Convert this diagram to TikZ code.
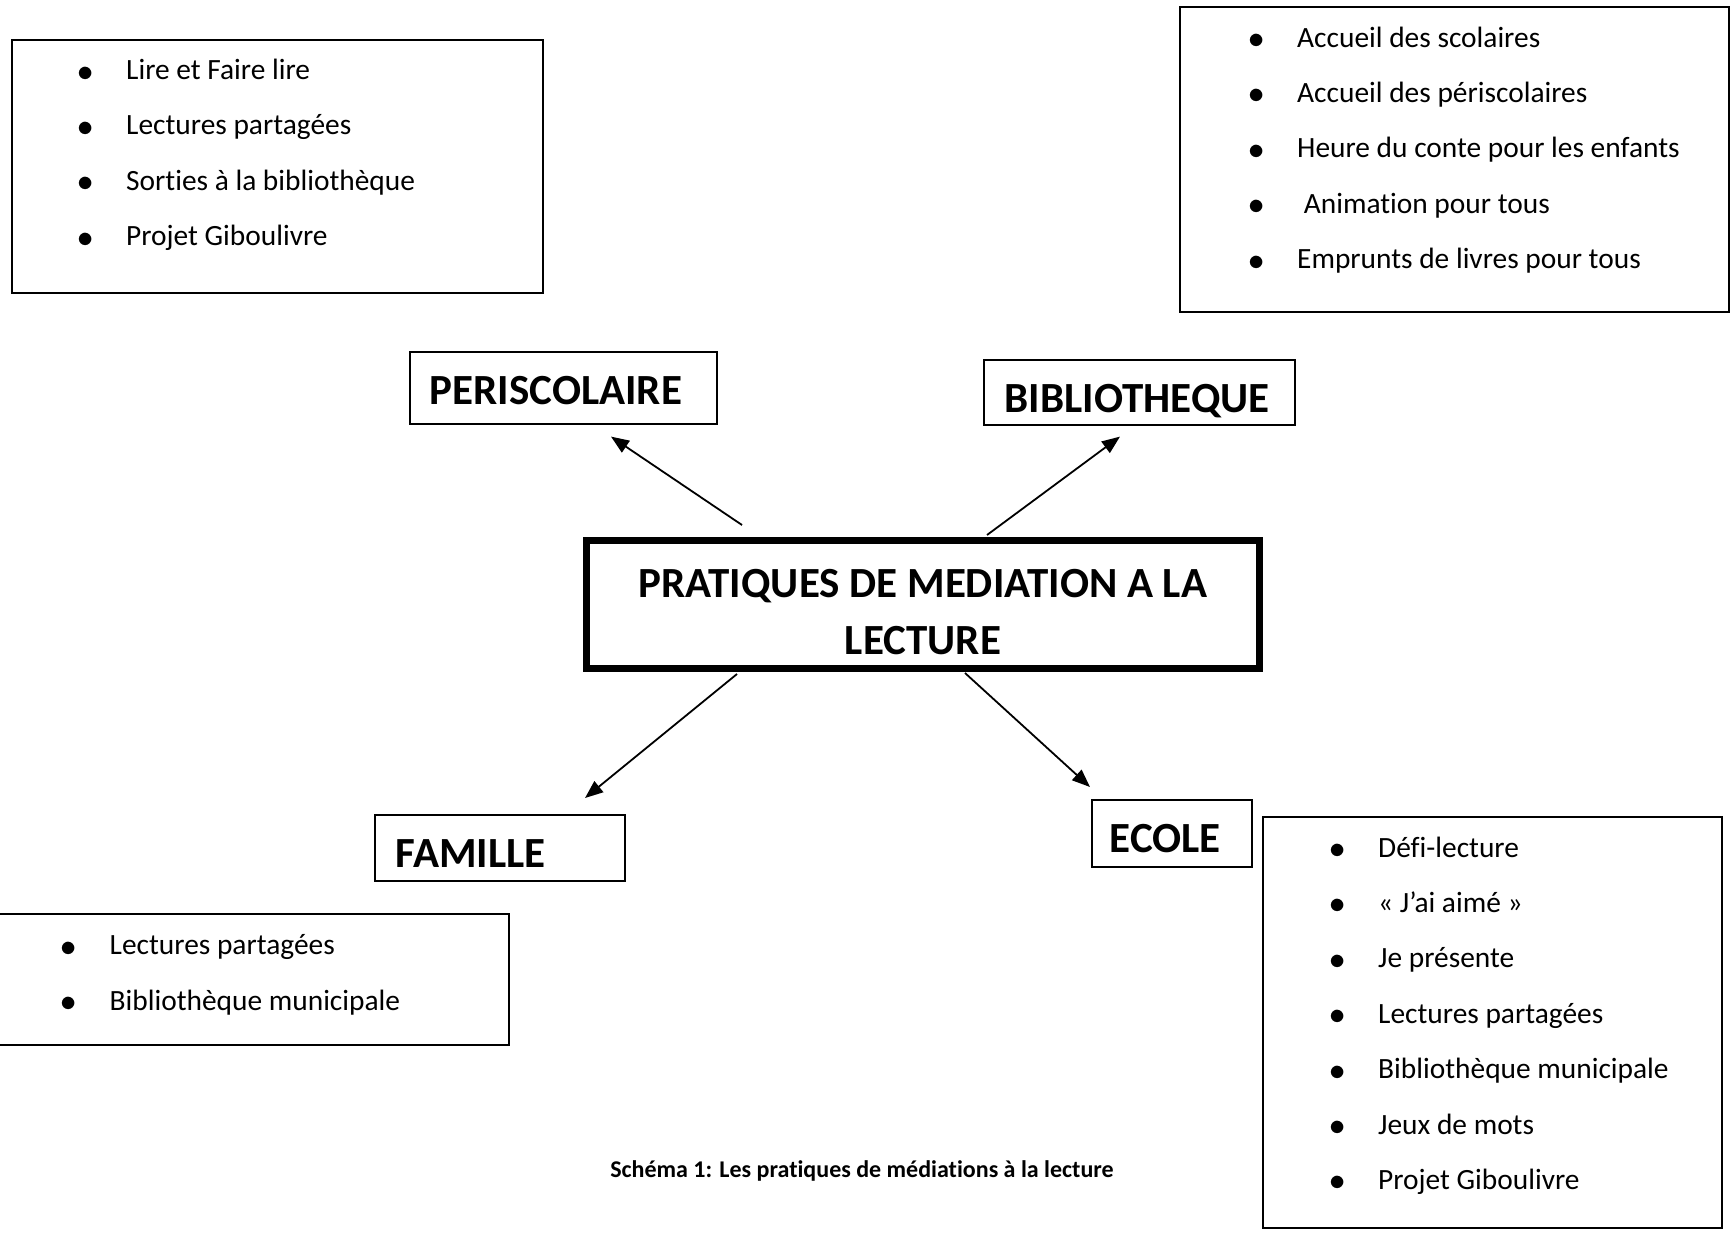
\documentclass[tikz,border=0pt]{standalone}
\usepackage{graphicx}
\usepackage{fontspec}
\setmainfont{Carlito}[Ligatures=NoCommon]
\usetikzlibrary{arrows.meta,positioning}

% one bulleted line of a list box
\newcommand{\bul}[1]{\makebox[0pt][c]{\raisebox{-1.5pt}{\scalebox{1.3}{$\bullet$}}}\hspace{41pt}#1}

\begin{document}
\begin{tikzpicture}[
  x=1pt, y=-1pt,
  frame/.style={draw, line width=1.6pt, inner sep=0pt, anchor=north west},
  items/.style={anchor=west, inner sep=0pt, align=left,
    font=\fontsize{29.4}{55.4}\selectfont},
  tag/.style={draw, line width=1.6pt, anchor=north west, align=left,
    inner xsep=20pt, inner ysep=0pt, text depth=0pt,
    font=\fontsize{43}{50}\bfseries\selectfont},
  core/.style={draw, line width=7pt, align=center, minimum width=673pt,
    minimum height=128pt, font=\fontsize{43}{57.5}\bfseries\selectfont},
  flow/.style={-{Triangle[length=18pt,width=14pt]}, line width=1.8pt}
]
  \useasboundingbox (0,0) rectangle (1730,1232);

  % list boxes
  \node[frame, minimum width=531pt, minimum height=253pt] (perilist) at (11,39) {};
  \node[items] (perilist-txt) at (85,155)
    {\bul{Lire et Faire lire}\\ \bul{Lectures partagées}\\
     \bul{Sorties à la bibliothèque}\\ \bul{Projet Giboulivre}};

  \node[frame, minimum width=549pt, minimum height=305pt] (bibliolist) at (1179,6) {};
  \node[items] (bibliolist-txt) at (1256,150)
    {\bul{Accueil des scolaires}\\ \bul{Accueil des périscolaires}\\
     \bul{Heure du conte pour les enfants}\\ \bul{\ Animation pour tous}\\
     \bul{Emprunts de livres pour tous}};

  \node[frame, minimum width=518pt, minimum height=131pt] (famlist) at (-10,913) {};
  \node[items] (famlist-txt) at (68.5,975)
    {\bul{Lectures partagées}\\ \bul{Bibliothèque municipale}};

  \node[frame, minimum width=459pt, minimum height=411pt] (ecolelist) at (1262,816) {};
  \node[items] (ecolelist-txt) at (1337,1015.5)
    {\bul{Défi-lecture}\\ \bul{« J’ai aimé »}\\ \bul{Je présente}\\
     \bul{Lectures partagées}\\ \bul{Bibliothèque municipale}\\
     \bul{Jeux de mots}\\ \bul{Projet Giboulivre}};

  % headings
  \node[tag, text width=267pt, minimum height=72pt, text height=33pt] (peri) at (409,351) {PERISCOLAIRE};
  \node[tag, text width=269pt, minimum height=65pt, inner xsep=21pt, text height=41pt] (biblio) at (983,359) {BIBLIOTHEQUE};
  \node[tag, text width=208pt, minimum height=66pt, inner xsep=21pt, text height=40pt] (famille) at (374,814) {FAMILLE};
  \node[tag, text width=124pt, minimum height=67pt, inner xsep=18pt, text height=38pt] (ecole) at (1091,799) {ECOLE};

  \node[core, text height=100.5pt, text depth=0pt] (centre) at (923,604.5) {PRATIQUES DE MEDIATION A LA\\LECTURE};

  \draw[flow] ([xshift=159pt,yshift=12pt]centre.north west) -- ([xshift=202pt,yshift=-12pt]peri.south west);
  \draw[flow] ([xshift=404pt,yshift=2pt]centre.north west) -- ([xshift=137pt,yshift=-11pt]biblio.south west);
  \draw[flow] ([xshift=154pt,yshift=-2pt]centre.south west) -- ([xshift=211pt,yshift=16pt]famille.north west);
  \draw[flow] ([xshift=382pt,yshift=-1pt]centre.south west) -- ([xshift=-1pt,yshift=12pt]ecole.north west);

  \node[font=\fontsize{24}{28}\bfseries\selectfont] (caption) at (862,1171)
    {Schéma 1: Les pratiques de médiations à la lecture};
\end{tikzpicture}
\end{document}
